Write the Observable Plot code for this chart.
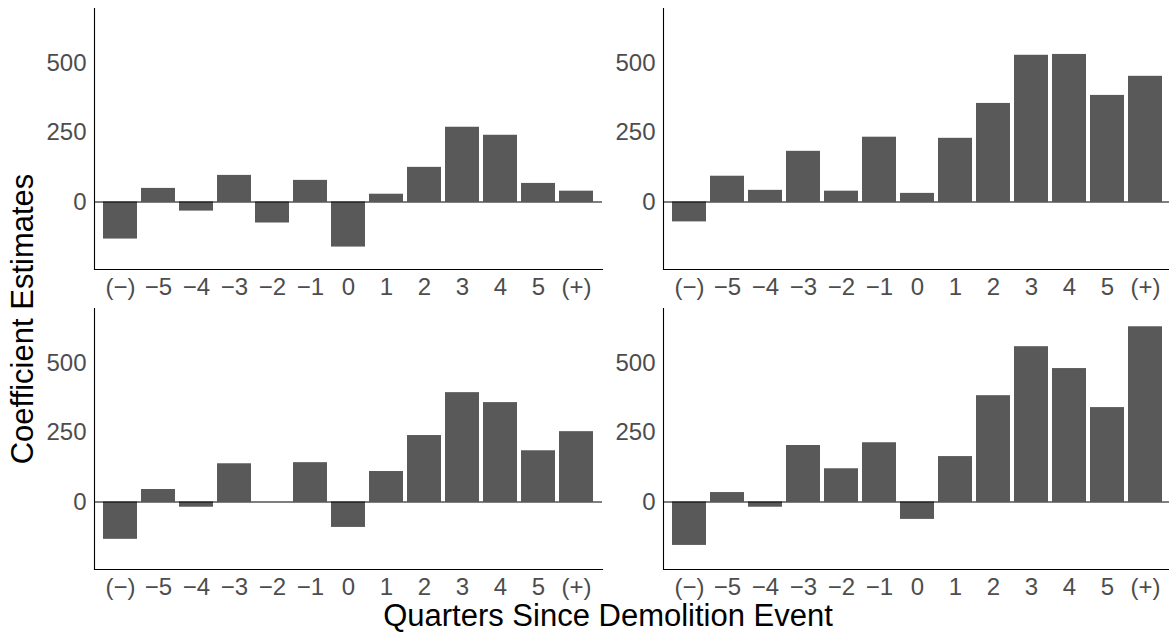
<!DOCTYPE html>
<html>
<head>
<meta charset="utf-8">
<script src="https://cdn.jsdelivr.net/npm/d3@7"></script>
<script src="https://cdn.jsdelivr.net/npm/@observablehq/plot@0.6"></script>
<style>
  html, body { margin: 0; padding: 0; background: #fff; overflow: hidden; }
  #root { position: relative; width: 1169px; height: 635px; font-family: "Liberation Sans", Arial, sans-serif; }
  .panel { position: absolute; }
  #titles { position: absolute; left: 0; top: 0; }
</style>
</head>
<body>
<div id="root"></div>
<script>
const quarters = ["(−)", "−5", "−4", "−3", "−2", "−1", "0", "1", "2", "3", "4", "5", "(+)"];
const panelTopLeft     = [-134, 49, -33, 96, -76, 78, -163, 28, 125, 270, 241, 67, 39];
const panelTopRight    = [-72, 93, 42, 183, 39, 234, 31, 230, 356, 530, 533, 385, 454];
const panelBottomLeft  = [-135, 45, -19, 138, 0, 142, -92, 110, 240, 395, 359, 185, 254];
const panelBottomRight = [-157, 34, -19, 204, 120, 214, -63, 164, 384, 561, 482, 341, 633];
const yTicks = [0, 250, 500];
const yDomain = [-244, 699];
const xTitle = "Quarters Since Demolition Event";
const yTitle = "Coefficient Estimates";

const panels = [
  {values: panelTopLeft, row: 0, col: 0},
  {values: panelTopRight, row: 0, col: 1},
  {values: panelBottomLeft, row: 1, col: 0},
  {values: panelBottomRight, row: 1, col: 1}
];

const root = document.getElementById("root");
const colSpec = [
  {left: 0, width: 602, marginLeft: 94},
  {left: 602, width: 570, marginLeft: 61}
];

for (const p of panels) {
  const data = quarters.map((q, i) => ({q, v: p.values[i]}));
  const cs = colSpec[p.col];
  const chart = Plot.plot({
    width: cs.width,
    height: 300,
    marginLeft: cs.marginLeft,
    marginRight: 0,
    marginTop: 8,
    marginBottom: 31,
    style: {fontFamily: "'Liberation Sans', Arial, sans-serif", color: "#4d4d4d", background: "transparent", overflow: "visible"},
    x: {domain: quarters, paddingInner: 0.1, paddingOuter: 0.15, label: null},
    y: {domain: yDomain, label: null},
    marks: [
      Plot.barY(data, {x: "q", y: "v", fill: "#595959"}),
      Plot.ruleY([0], {stroke: "#000", strokeWidth: 1.1}),
      Plot.axisY(yTicks, {tickSize: 0, tickPadding: 8, fontSize: 24, label: null}),
      Plot.axisX({tickSize: 0, tickPadding: 8, fontSize: 24, label: null}),
      Plot.frame({anchor: "left", stroke: "#000", strokeWidth: 1.1}),
      Plot.frame({anchor: "bottom", stroke: "#000", strokeWidth: 1.1})
    ]
  });
  chart.classList.add("panel");
  chart.style.left = cs.left + "px";
  chart.style.top = (p.row * 300) + "px";
  root.appendChild(chart);
}

const svg = d3.select(root).append("svg")
  .attr("id", "titles")
  .attr("width", 1169).attr("height", 635)
  .style("pointer-events", "none");
svg.append("text")
  .attr("x", 608).attr("y", 626)
  .attr("text-anchor", "middle")
  .attr("font-family", "'Liberation Sans', Arial, sans-serif")
  .attr("font-size", 31)
  .attr("fill", "#000")
  .text(xTitle);
svg.append("text")
  .attr("transform", "translate(33,319) rotate(-90)")
  .attr("text-anchor", "middle")
  .attr("font-family", "'Liberation Sans', Arial, sans-serif")
  .attr("font-size", 31)
  .attr("fill", "#000")
  .text(yTitle);
</script>
</body>
</html>
